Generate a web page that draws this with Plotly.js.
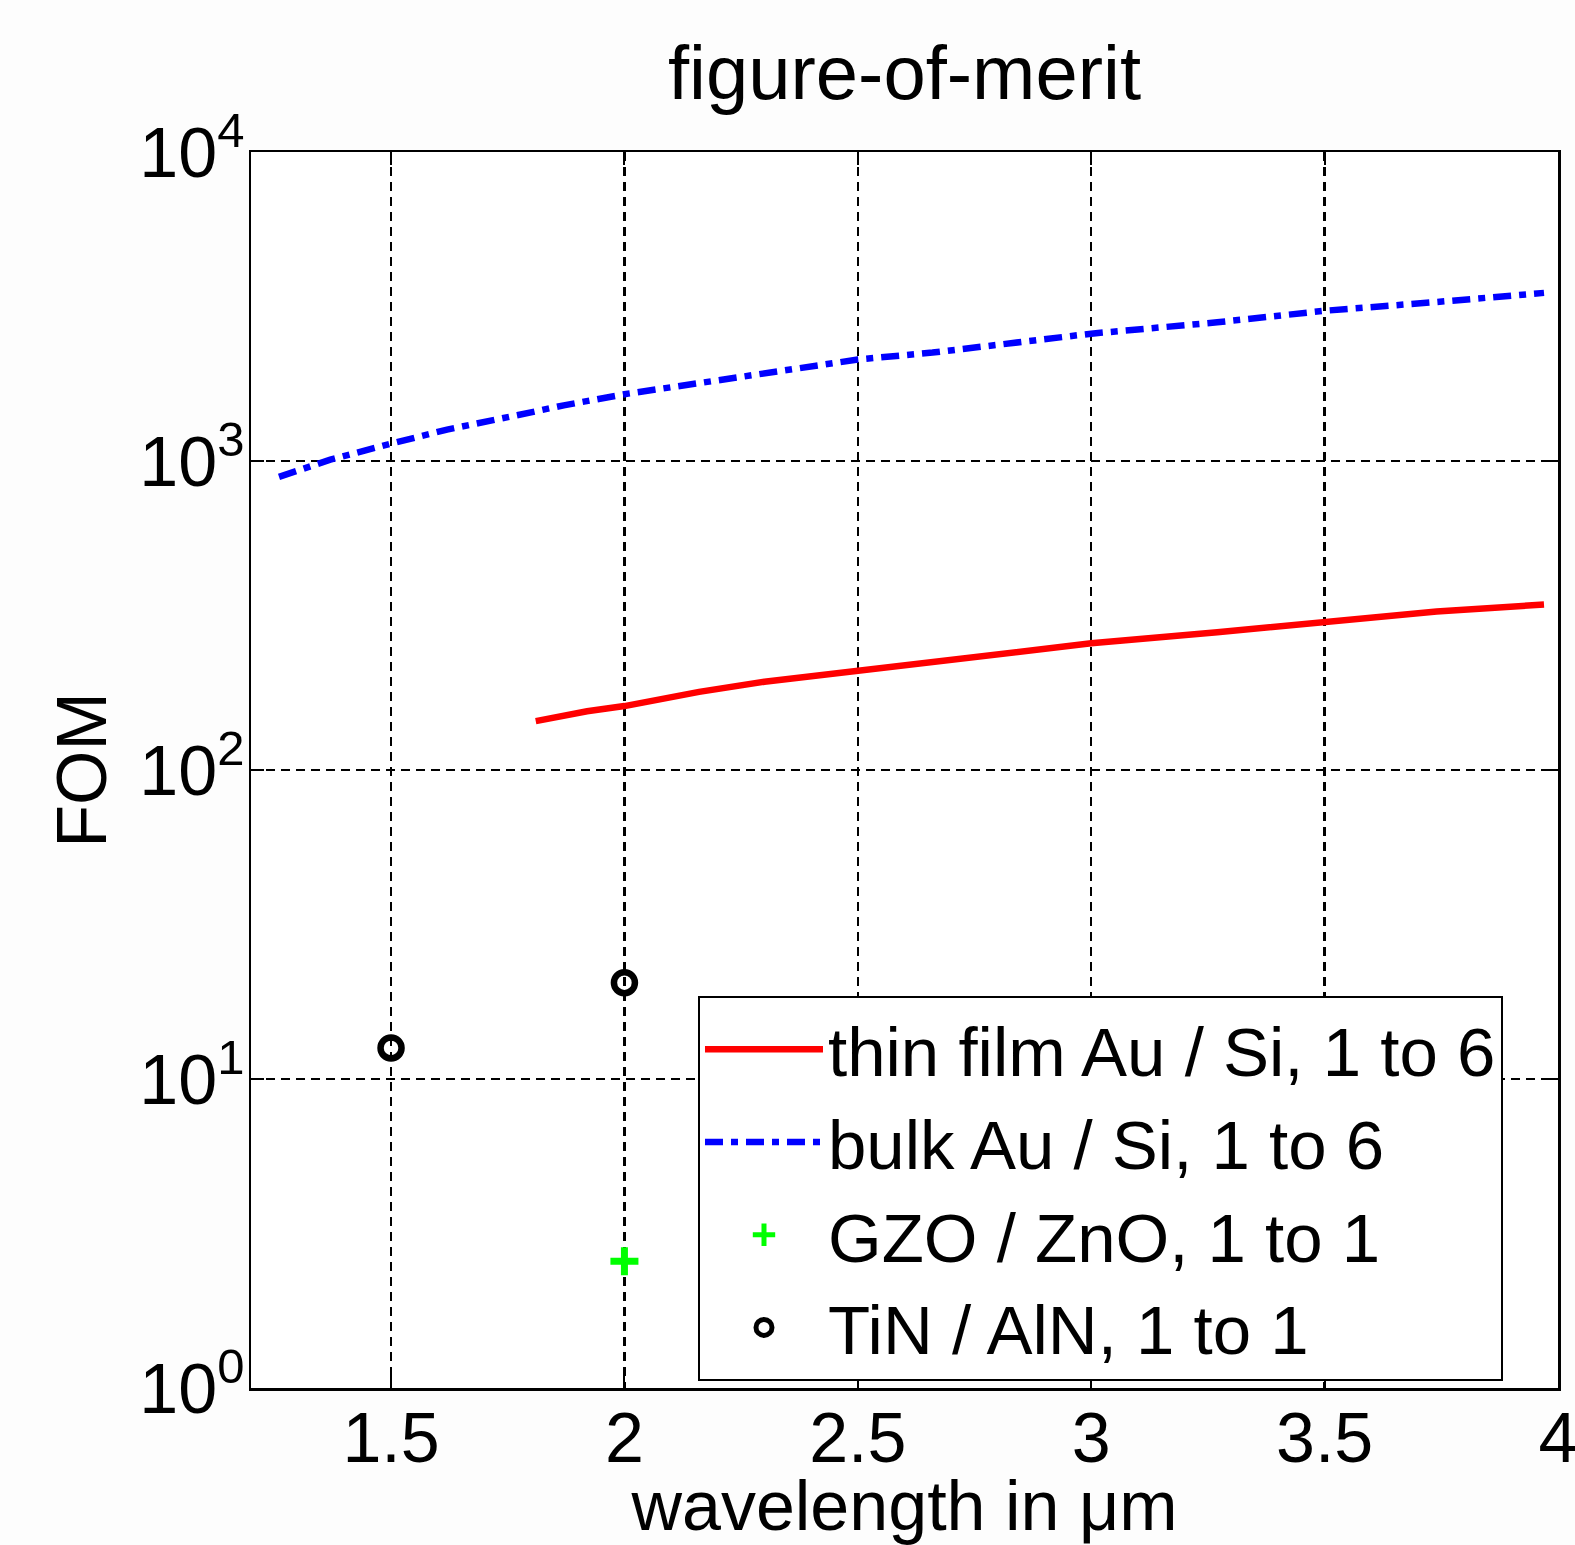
<!DOCTYPE html>
<html>
<head>
<meta charset="utf-8">
<script src="https://cdn.plot.ly/plotly-3.0.1.min.js"></script>
<style>
html,body{margin:0;padding:0;background:#fdfdfd;}
#chart{width:1575px;height:1545px;}
</style>
</head>
<body>
<div id="chart"></div>
<script>
// ---- data ----
const thinFilmX = [1.81, 1.92, 2.0, 2.16, 2.3, 2.5, 2.66, 2.91, 3.0, 3.27, 3.5, 3.74, 3.97];
const thinFilmY = [144, 155, 161, 179, 193, 209, 222, 248, 257, 279, 300, 326, 343];
const bulkX = [1.26, 1.37, 1.5, 1.62, 1.77, 1.87, 2.0, 2.16, 2.3, 2.5, 2.66, 2.91, 3.0, 3.27, 3.5, 3.74, 3.97];
const bulkY = [888, 1010, 1138, 1264, 1406, 1514, 1645, 1788, 1927, 2130, 2243, 2473, 2583, 2811, 3063, 3270, 3500];
const gzoX = [2.0];
const gzoY = [2.57];
const tinX = [1.5, 2.0];
const tinY = [12.6, 20.5];
const seriesNames = ['thin film Au / Si, 1 to 6', 'bulk Au / Si, 1 to 6', 'GZO / ZnO, 1 to 1', 'TiN / AlN, 1 to 1'];
const xTickVals = [1.5, 2, 2.5, 3, 3.5, 4];
const xTickText = ['1.5', '2', '2.5', '3', '3.5', '4'];
const yTickVals = [1, 10, 100, 1000, 10000];
const yTickText = ['10<sup>0</sup>', '10<sup>1</sup>', '10<sup>2</sup>', '10<sup>3</sup>', '10<sup>4</sup>'];
const chartTitle = 'figure-of-merit';
const xTitle = 'wavelength in μm';
const yTitle = 'FOM';

const FONT = 'Liberation Sans, Arial, Helvetica, sans-serif';

const traces = [
  {x: thinFilmX, y: thinFilmY, name: seriesNames[0], mode: 'lines', type: 'scatter',
   line: {color: '#ff0000', width: 6.5}},
  {x: bulkX, y: bulkY, name: seriesNames[1], mode: 'lines', type: 'scatter',
   line: {color: '#0000ff', width: 6.5, dash: '18px,8px,7px,8px'}},
  {x: gzoX, y: gzoY, name: seriesNames[2], mode: 'markers', type: 'scatter',
   marker: {symbol: 'cross-thin-open', size: 20, color: '#00ff00', line: {color: '#00ff00', width: 7}}},
  {x: tinX, y: tinY, name: seriesNames[3], mode: 'markers', type: 'scatter',
   marker: {symbol: 'circle-open', size: 21, color: '#000000', line: {color: '#000000', width: 6.5}}}
];

const axisCommon = {
  showline: true, linecolor: '#000', linewidth: 2.5, mirror: 'ticks',
  ticks: 'inside', ticklen: 13, tickwidth: 2, tickcolor: '#000',
  showgrid: true, gridcolor: '#000', gridwidth: 2.5, griddash: '9px,6px',
  zeroline: false, tickfont: {family: FONT, size: 70, color: '#000'},
  automargin: false
};

const layout = {
  width: 1575, height: 1545,
  margin: {l: 251, r: 17, t: 152, b: 157, pad: 0},
  paper_bgcolor: '#fdfdfd', plot_bgcolor: '#ffffff',
  font: {family: FONT, color: '#000'},
  title: {text: chartTitle, font: {family: FONT, size: 76, color: '#000'},
          x: 0.5, xref: 'paper', xanchor: 'center', y: 0.953, yref: 'container', yanchor: 'middle'},
  xaxis: Object.assign({}, axisCommon, {
    type: 'linear', range: [1.2, 4], tickvals: xTickVals, ticktext: xTickText,
    ticklabelstandoff: -13, ticklabeloverflow: 'allow',
    title: {text: xTitle, font: {family: FONT, size: 70, color: '#000'}, standoff: 50}
  }),
  yaxis: Object.assign({}, axisCommon, {
    type: 'log', range: [0, 4], tickvals: yTickVals, ticktext: yTickText,
    ticklabelstandoff: -10, ticklabeloverflow: 'allow',
    title: {text: yTitle, font: {family: FONT, size: 70, color: '#000'}, standoff: 10}
  }),
  legend: {
    x: 0.342, y: 0.3172, xanchor: 'left', yanchor: 'top',
    bgcolor: '#ffffff', bordercolor: '#000', borderwidth: 2,
    font: {family: FONT, size: 69, color: '#000'},
    itemwidth: 118, tracegroupgap: 0
  },
  showlegend: true
};

Plotly.newPlot('chart', traces, layout, {displayModeBar: false, staticPlot: true});
</script>
</body>
</html>
